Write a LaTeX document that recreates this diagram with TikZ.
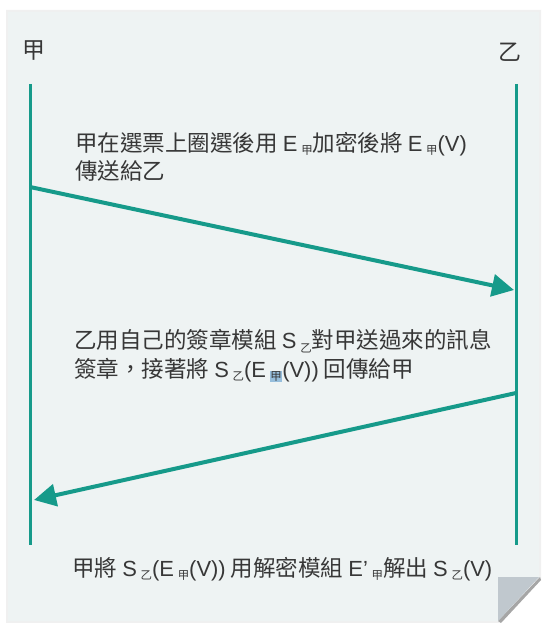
\documentclass[tikz,border=0pt]{standalone}
\usepackage{fontspec}
\setmainfont{Noto Sans CJK TC}
\newfontfamily\latf{Liberation Sans}
\usetikzlibrary{arrows.meta}
\definecolor{pagebg}{RGB}{238,243,243}
\definecolor{teal1}{RGB}{22,154,138}
\definecolor{txt}{RGB}{55,55,55}
\definecolor{foldc}{RGB}{192,200,206}
\definecolor{hl}{RGB}{150,190,220}
\newcommand\lt[1]{{\latf\fontsize{22}{29}\selectfont #1}}
\newcommand\sbx[1]{\raisebox{-3.5bp}{\fontsize{11.5}{11.5}\selectfont #1}}
\newcommand\sbh[1]{\raisebox{-3.5bp}{\setlength{\fboxsep}{0.5bp}\colorbox{hl}{\fontsize{11.5}{11.5}\selectfont #1}}}
\tikzset{
  life/.style={draw=teal1,line width=3bp},
  msg/.style={draw=teal1,line width=4bp,-{Triangle[length=22bp,width=22bp]}},
  lbl/.style={text=txt,font=\fontsize{22.6}{28.5}\selectfont,inner sep=0pt,align=left,anchor=west},
  who/.style={text=txt,font=\fontsize{23}{23}\selectfont,inner sep=0pt}
}
\begin{document}
\begin{tikzpicture}[x=1bp,y=-1bp]
\useasboundingbox (0,0) rectangle (542,623);
\fill[white] (0,0) rectangle (542,623);
% page shadow
\fill[black!6] (6,10) -- (541,10) -- (541,578) -- (499,623) -- (6,623) -- cycle;
% page
\fill[pagebg] (8,12) -- (539,12) -- (539,577) -- (498,621) -- (8,621) -- cycle;
% fold
\fill[black!35] (498,621) -- (540,577) -- (541,580) -- (501,623) -- cycle;
\fill[foldc] (498,577) -- (539,577) -- (498,621) -- cycle;
% actors
\node[who] (A) at (34,51) {甲};
\node[who] (B) at (510,52) {乙};
\coordinate (a1) at (30,84);
\coordinate (a2) at (30,545);
\coordinate (b1) at (516,84);
\coordinate (b2) at (516,545);
\draw[life] (a1) -- (a2);
\draw[life] (b1) -- (b2);
% messages
\coordinate (m1s) at (30,187);
\coordinate (m1e) at (514,290);
\coordinate (m2s) at (516,393);
\coordinate (m2e) at (34,500);
\draw[msg] (m1s) -- (m1e);
\draw[msg] (m2s) -- (m2e);
% texts
\node[lbl] (t1) at (75,157) {甲在選票上圈選後用 \lt{E}\,\sbx{甲}加密後將 \lt{E}\,\sbx{甲}\lt{(V)}\\傳送給乙};
\node[lbl] (t2) at (74,356) {乙用自己的簽章模組 \lt{S}\,\sbx{乙}對甲送過來的訊息\\簽章，接著將 \lt{S}\,\sbx{乙}\lt{(E}\,\sbh{甲}\lt{(V))} 回傳給甲};
\node[lbl] (t3) at (72,569) {甲將 \lt{S}\,\sbx{乙}\lt{(E}\,\sbx{甲}\lt{(V))} 用解密模組 \lt{E’}\,\sbx{甲}解出 \lt{S}\,\sbx{乙}\lt{(V)}};
\end{tikzpicture}
\end{document}
